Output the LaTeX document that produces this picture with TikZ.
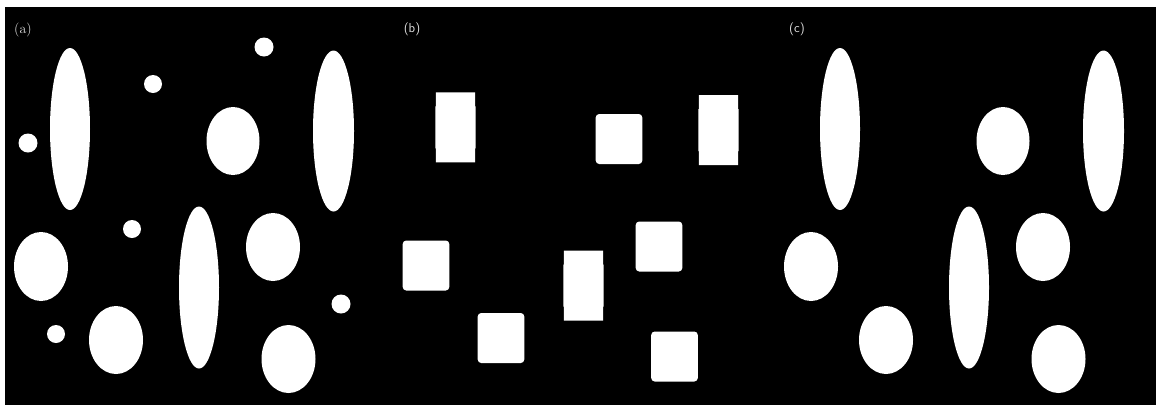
\documentclass[tikz,border=0pt]{standalone}
\begin{document}
\begin{tikzpicture}[x=1pt,y=-1pt,
  blob/.style={fill=white},
  paneltag/.style={text=white!88!black,inner sep=0pt,font=\fontsize{14}{16}\selectfont},
  sanstag/.style={paneltag,font=\fontsize{13}{15}\selectfont\sffamily}]
\useasboundingbox (0,0) rectangle (1156,405);
\fill[white] (0,0) rectangle (1156,405);
\fill[black] (5,7) rectangle (1156,405);
% panel labels
\node[paneltag] (la) at (23,30) {(a)};
\node[sanstag] (lb) at (412,29) {(b)};
\node[sanstag] (lc) at (797,29) {(c)};
% panels (a) and (c): ellipses
\foreach \dx in {0,770}{
  \foreach \cx/\cy/\rx/\ry in {70/129/20/81, 333.5/131/20.5/80.5, 199/287.5/20/81,
     233/141/26.5/34, 41/266.5/27/34.5, 273/247/27/34, 116/340/27/34, 288.5/359/27/34}{
    \fill[blob] (\cx+\dx,\cy) ellipse [x radius=\rx, y radius=\ry];
  }
}
% panel (a): small circles
\foreach \cx/\cy/\r in {264/47/9.5, 153/84/9, 28/143/9.5, 132/229/9, 341/304/9.5, 56/334/9}{
  \fill[blob] (\cx,\cy) circle [radius=\r];
}
% panel (b): tall blocks
\foreach \cx/\cy in {455.5/127.3, 718.5/130, 583.5/285.5}{
  \fill[blob] (\cx-19.6,\cy-35) -- (\cx+19.6,\cy-35) -- (\cx+19.6,\cy-21) -- (\cx+20.2,\cy-21)
    -- (\cx+20.2,\cy+21) -- (\cx+19.6,\cy+21) -- (\cx+19.6,\cy+35) -- (\cx-19.6,\cy+35)
    -- (\cx-19.6,\cy+21) -- (\cx-20.2,\cy+21) -- (\cx-20.2,\cy-21) -- (\cx-19.6,\cy-21) -- cycle;
}
% panel (b): squarish blocks
\foreach \cx/\cy in {619/139, 426/265.5, 659/246.5, 501/338, 674.5/356.5}{
  \fill[blob,rounded corners=3.5] (\cx-23.3,\cy-25) rectangle (\cx+23.3,\cy+25);
}
\end{tikzpicture}
\end{document}
